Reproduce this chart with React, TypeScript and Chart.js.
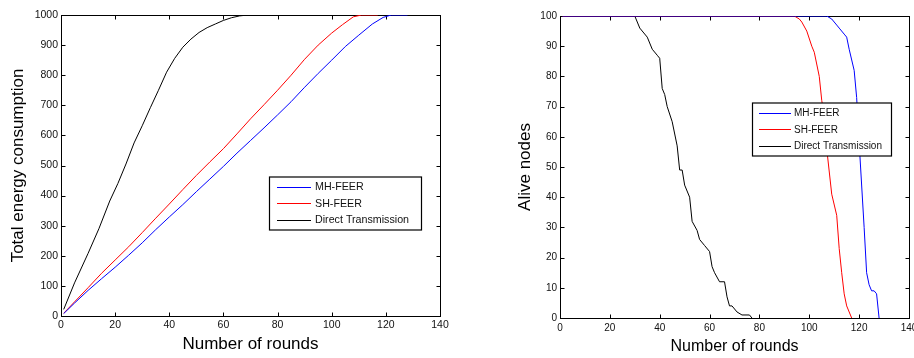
import React, { useEffect, useRef } from "react";
import { Chart, registerables } from "chart.js";

Chart.register(...registerables);

// ---------- data ----------
const seriesNames = ["MH-FEER", "SH-FEER", "Direct Transmission"];
const seriesColors = ["#0000ff", "#ff0000", "#000000"];

const roundTicks = [0, 20, 40, 60, 80, 100, 120, 140];
const energyTicks = [0, 100, 200, 300, 400, 500, 600, 700, 800, 900, 1000];
const aliveTicks = [0, 10, 20, 30, 40, 50, 60, 70, 80, 90, 100];

// Total energy consumption
const mhEnergyRounds = [1, 5, 10, 15, 20, 25, 30, 35, 40, 45, 50, 55, 60, 65, 70, 75, 80, 85, 90, 95, 100, 105, 110, 115, 119, 122, 128];
const mhEnergyValues = [8, 43, 85, 124, 162, 202, 243, 287, 329, 370, 413, 455, 497, 541, 583, 625, 668, 712, 760, 806, 850, 895, 933, 970, 992, 1000, 1000];

const shEnergyRounds = [1, 5, 10, 15, 20, 25, 30, 35, 40, 45, 50, 55, 60, 65, 70, 75, 80, 85, 90, 95, 100, 104, 108, 111, 117];
const shEnergyValues = [9, 47, 94, 142, 186, 230, 277, 325, 372, 420, 467, 512, 556, 605, 655, 702, 750, 800, 853, 900, 940, 968, 994, 1000, 1000];

const dtEnergyRounds = [1, 5, 10, 14, 18, 21, 24, 27, 30, 33, 36, 39, 42, 45, 48, 51, 54, 57, 60, 63, 66, 69, 77];
const dtEnergyValues = [22, 110, 208, 290, 382, 440, 505, 575, 632, 692, 750, 810, 856, 893, 920, 942, 958, 970, 982, 991, 997, 1000, 1000];

// Alive nodes
const mhAliveRounds = [1, 107, 109, 111, 112, 114, 115, 116, 118, 119, 120, 122, 123, 124, 125, 126, 127, 128];
const mhAliveValues = [100, 100, 99, 97, 96, 94, 93, 89, 82, 73, 58, 30, 15, 11, 9, 9, 8, 0];

const shAliveRounds = [1, 94, 96, 97, 99, 101, 102, 104, 105, 106, 107, 109, 111, 112, 113, 114, 115, 117];
const shAliveValues = [100, 100, 99, 98, 95, 90, 88, 80, 72, 67, 56, 41, 34, 23, 15, 8, 4, 0];

const dtAliveRounds = [1, 30, 32, 35, 37, 39, 40, 41, 42, 43, 45, 47, 48, 49, 50, 52, 53, 55, 56, 58, 60, 61, 62, 64, 66, 67, 68, 69, 71, 73, 76, 77];
const dtAliveValues = [100, 100, 96, 93, 89, 87, 86, 76, 74, 70, 65, 57, 49, 49, 44, 40, 32, 29, 26, 24, 22, 17, 15, 12, 12, 7, 4, 4, 2, 1, 1, 0];

// ---------- helpers ----------
const FONT = "'Liberation Sans', Arial, Helvetica, sans-serif";

function toPoints(xs: number[], ys: number[]) {
  return xs.map((x, i) => ({ x, y: ys[i] }));
}

type LegendSpec = {
  x: number;
  y: number;
  w: number;
  h: number;
  lineX0: number;
  lineX1: number;
  textX: number;
  rows: number[];
  fontSize: number;
};

function framePlugin(legend: LegendSpec) {
  return {
    id: "matlabFrame",
    beforeDatasetsDraw(chart: any) {
      const { ctx, chartArea: a } = chart;
      const L = Math.round(a.left) + 0.5;
      const R = Math.round(a.right) + 0.5;
      const T = Math.round(a.top) + 0.5;
      const B = Math.round(a.bottom) + 0.5;
      ctx.save();
      ctx.strokeStyle = "#000";
      ctx.lineWidth = 1;
      ctx.strokeRect(L, T, R - L, B - T);
      const xs = chart.scales.x;
      const ys = chart.scales.y;
      ctx.beginPath();
      for (const t of xs.ticks) {
        const px = Math.round(xs.getPixelForValue(t.value)) + 0.5;
        ctx.moveTo(px, B);
        ctx.lineTo(px, B - 4);
        ctx.moveTo(px, T);
        ctx.lineTo(px, T + 4);
      }
      for (const t of ys.ticks) {
        const py = Math.round(ys.getPixelForValue(t.value)) + 0.5;
        ctx.moveTo(L, py);
        ctx.lineTo(L + 4, py);
        ctx.moveTo(R, py);
        ctx.lineTo(R - 4, py);
      }
      ctx.stroke();
      ctx.restore();
    },
    afterDatasetsDraw(chart: any) {
      const { ctx } = chart;
      ctx.save();
      ctx.fillStyle = "#fff";
      ctx.fillRect(legend.x, legend.y, legend.w, legend.h);
      ctx.strokeStyle = "#000";
      ctx.lineWidth = 1.2;
      ctx.strokeRect(legend.x, legend.y, legend.w, legend.h);
      ctx.font = `${legend.fontSize}px ${FONT}`;
      ctx.textBaseline = "middle";
      ctx.textAlign = "left";
      seriesNames.forEach((name, i) => {
        const y = Math.round(legend.rows[i]) + 0.5;
        ctx.strokeStyle = seriesColors[i];
        ctx.lineWidth = 1;
        ctx.beginPath();
        ctx.moveTo(legend.lineX0, y);
        ctx.lineTo(legend.lineX1, y);
        ctx.stroke();
        ctx.fillStyle = "#111";
        ctx.fillText(name, legend.textX, legend.rows[i] + 0.5);
      });
      ctx.restore();
    },
  };
}

type PanelCfg = {
  width: number;
  height: number;
  yAxisWidth: number;
  xAxisHeight: number;
  padTop: number;
  padRight: number;
  yMax: number;
  yTicks: number[];
  yTitle: string;
  yTitlePadTop: number;
  yTitleSize: number;
  xTitleSize: number;
  xTitlePadBottom: number;
  tickSize: number;
  xTickPad: number;
  legend: LegendSpec;
  series: { x: number[]; y: number[] }[];
};

function Panel({ cfg }: { cfg: PanelCfg }) {
  const ref = useRef<HTMLCanvasElement | null>(null);
  useEffect(() => {
    if (!ref.current) return;
    const chart = new Chart(ref.current, {
      type: "line",
      data: {
        datasets: cfg.series.map((s, i) => ({
          label: seriesNames[i],
          data: toPoints(s.x, s.y),
          borderColor: seriesColors[i],
          backgroundColor: seriesColors[i],
          borderWidth: 1,
          pointRadius: 0,
          tension: 0,
          fill: false,
        })),
      },
      options: {
        responsive: false,
        maintainAspectRatio: false,
        animation: false,
        events: [],
        layout: { padding: { top: cfg.padTop, right: cfg.padRight, left: 0, bottom: 0 } },
        plugins: { legend: { display: false }, tooltip: { enabled: false } },
        scales: {
          x: {
            type: "linear",
            min: 0,
            max: 140,
            afterBuildTicks: (s: any) => {
              s.ticks = roundTicks.map((v) => ({ value: v }));
            },
            afterFit: (s: any) => {
              s.height = cfg.xAxisHeight;
              s.paddingLeft = 0;
              s.paddingRight = 0;
            },
            grid: { display: false, drawTicks: false },
            border: { display: false },
            ticks: {
              color: "#111",
              font: { family: FONT, size: cfg.tickSize },
              padding: cfg.xTickPad,
              maxRotation: 0,
              autoSkip: false,
              callback: (v: any) => String(v),
            },
            title: {
              display: true,
              text: "Number of rounds",
              color: "#000",
              font: { family: FONT, size: cfg.xTitleSize },
              padding: { top: 0, bottom: cfg.xTitlePadBottom },
            },
          },
          y: {
            type: "linear",
            min: 0,
            max: cfg.yMax,
            afterBuildTicks: (s: any) => {
              s.ticks = cfg.yTicks.map((v) => ({ value: v }));
            },
            afterFit: (s: any) => {
              s.width = cfg.yAxisWidth;
              s.paddingTop = 0;
              s.paddingBottom = 0;
            },
            grid: { display: false, drawTicks: false },
            border: { display: false },
            ticks: {
              color: "#111",
              font: { family: FONT, size: cfg.tickSize },
              padding: 3,
              autoSkip: false,
              callback: (v: any) => String(v),
            },
            title: {
              display: true,
              text: cfg.yTitle,
              color: "#000",
              font: { family: FONT, size: cfg.yTitleSize },
              padding: { top: cfg.yTitlePadTop, bottom: 0 },
            },
          },
        },
      },
      plugins: [framePlugin(cfg.legend)],
    } as any);
    return () => chart.destroy();
  }, [cfg]);
  return (
    <canvas
      ref={ref}
      width={cfg.width}
      height={cfg.height}
      style={{ width: cfg.width, height: cfg.height, display: "block" }}
    />
  );
}

const leftCfg: PanelCfg = {
  width: 460,
  height: 358,
  yAxisWidth: 61,
  xAxisHeight: 42,
  padTop: 15,
  padRight: 20,
  yMax: 1000,
  yTicks: energyTicks,
  yTitle: "Total energy consumption",
  yTitlePadTop: 8,
  yTitleSize: 17,
  xTitleSize: 17,
  xTitlePadBottom: 3,
  tickSize: 10.5,
  xTickPad: 3,
  legend: {
    x: 269.5,
    y: 177,
    w: 152,
    h: 53,
    lineX0: 277,
    lineX1: 311,
    textX: 315,
    rows: [186.7, 203.3, 220],
    fontSize: 10.7,
  },
  series: [
    { x: mhEnergyRounds, y: mhEnergyValues },
    { x: shEnergyRounds, y: shEnergyValues },
    { x: dtEnergyRounds, y: dtEnergyValues },
  ],
};

const rightCfg: PanelCfg = {
  width: 454,
  height: 358,
  yAxisWidth: 100,
  xAxisHeight: 40,
  padTop: 16,
  padRight: 5,
  yMax: 100,
  yTicks: aliveTicks,
  yTitle: "Alive nodes",
  yTitlePadTop: 55.5,
  yTitleSize: 17,
  xTitleSize: 16,
  xTitlePadBottom: 1.7,
  tickSize: 10,
  xTickPad: 4,
  legend: {
    x: 292.5,
    y: 103,
    w: 139,
    h: 53,
    lineX0: 299,
    lineX1: 331,
    textX: 334,
    rows: [112.7, 129.3, 146],
    fontSize: 10,
  },
  series: [
    { x: mhAliveRounds, y: mhAliveValues },
    { x: shAliveRounds, y: shAliveValues },
    { x: dtAliveRounds, y: dtAliveValues },
  ],
};

export default function App() {
  return (
    <div
      style={{
        position: "fixed",
        left: 0,
        top: 0,
        width: 914,
        height: 358,
        background: "#fff",
        overflow: "hidden",
      }}
    >
      <div style={{ position: "absolute", left: 0, top: 0 }}>
        <Panel cfg={leftCfg} />
      </div>
      <div style={{ position: "absolute", left: 460, top: 0 }}>
        <Panel cfg={rightCfg} />
      </div>
    </div>
  );
}
